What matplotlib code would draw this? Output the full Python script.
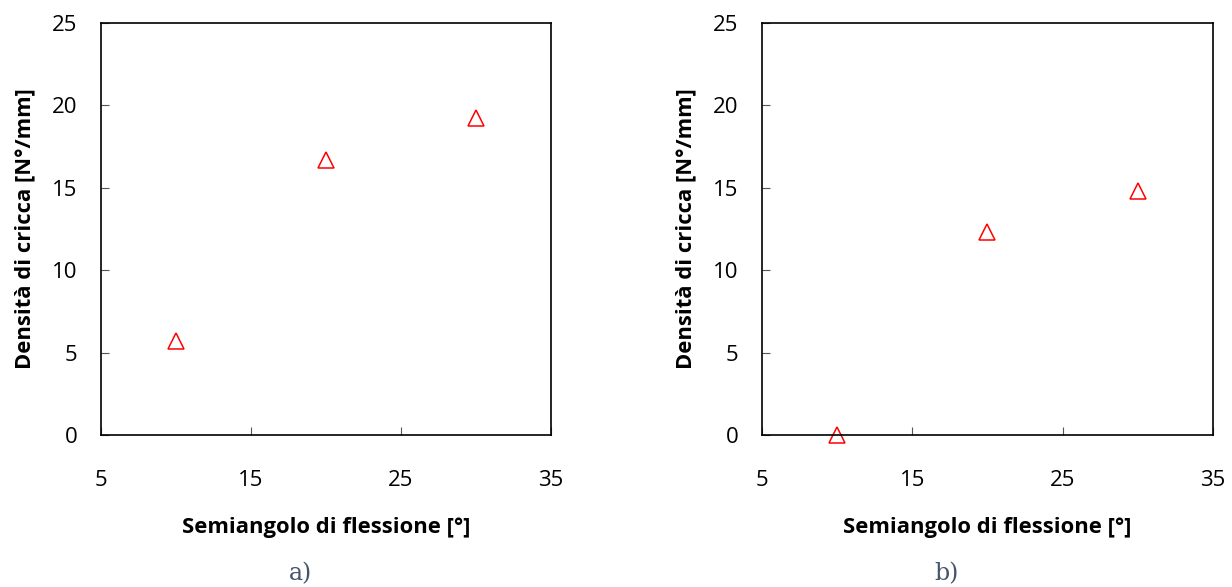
import matplotlib.pyplot as plt

# dati
semiangolo = [10, 20, 30]
densita_a = [5.7, 16.7, 19.2]
densita_b = [0.0, 12.3, 14.8]

x_ticks = [5, 15, 25, 35]
y_ticks = [0, 5, 10, 15, 20, 25]

plt.rcParams['font.family'] = ['Open Sans', 'DejaVu Sans']

fig = plt.figure(figsize=(12.32, 5.87), dpi=100)

pannelli = [
    ([0.082, 0.259, 0.365, 0.702], densita_a, 'a)', 0.244),
    ([0.6185, 0.259, 0.366, 0.702], densita_b, 'b)', 0.768),
]

for pos, dati, lettera, xl in pannelli:
    ax = fig.add_axes(pos)
    ax.plot(semiangolo, dati, linestyle='none', marker='^', markersize=12,
            markerfacecolor='none', markeredgecolor='red', markeredgewidth=1.1,
            clip_on=False)
    ax.set_xlim(5, 35)
    ax.set_ylim(0, 25)
    ax.set_xticks(x_ticks)
    ax.set_yticks(y_ticks)
    ax.tick_params(direction='in', length=5.5, width=0.8, color='#555555',
                   labelsize=16, labelcolor='black')
    ax.tick_params(axis='x', pad=25)
    ax.tick_params(axis='y', pad=17)
    for s in ax.spines.values():
        s.set_linewidth(1.2)
    ax.set_xlabel('Semiangolo di flessione [°]', fontsize=15.8, fontweight='bold',
                  labelpad=19)
    ax.set_ylabel('Densità di cricca [N°/mm]', fontsize=15.8, fontweight='bold',
                  labelpad=12)
    fig.text(xl, 0.012, lettera, fontsize=17, family='DejaVu Serif',
             color='#44546A', ha='center', va='baseline')

fig.savefig('out.png', dpi=100)
